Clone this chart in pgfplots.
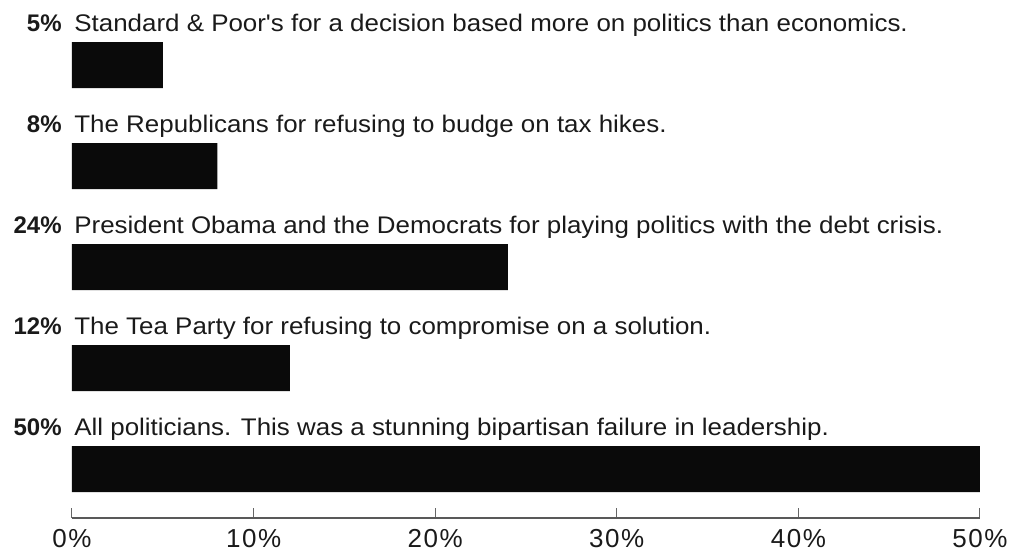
\documentclass[border=0pt]{standalone}
\usepackage{fontspec}
\setmainfont{Liberation Sans}
\newfontfamily\labfont{Liberation Sans}[FakeStretch=1.08]
\usepackage{pgfplots}
\pgfplotsset{compat=1.18}
\definecolor{ink}{HTML}{1A1A1A}
\definecolor{barfill}{HTML}{0A0A0A}
\begin{document}
\begin{tikzpicture}
% fixed picture size (1px = 0.5pt)
\path[use as bounding box] (-36pt,-18pt) rectangle (468.5pt,259pt);
\begin{axis}[
  scale only axis, width=454pt, height=259pt,
  xmin=0, xmax=50, ymin=-0.485, ymax=4.644,
  axis x line*=bottom, axis y line=none,
  clip=false,
  xbar, bar width=23pt,
  xtick={0,10,...,50},
  xticklabels={0\%,10\%,20\%,30\%,40\%,50\%},
  ytick=\empty,
  tick align=inside, major tick length=5pt,
  every tick/.style={black!60, line width=0.5pt},
  x axis line style={black!65, line width=0.6pt},
  xticklabel style={font=\fontsize{13}{15}\selectfont\addfontfeature{LetterSpace=6}, text=ink, yshift=-2pt},
]
\addplot[fill=barfill, draw=none] coordinates {(5,4) (8,3) (24,2) (12,1) (50,0)};

\tikzset{lab/.style={anchor=base west, inner sep=0pt, xshift=1pt, text=ink, font=\labfont\fontsize{12}{14}\selectfont},
         pct/.style={anchor=base east, inner sep=0pt, text=ink, font=\fontsize{12}{14}\selectfont\bfseries}}
\node[lab] at (axis cs:0,4.33) {Standard \& Poor's for a decision based more on politics than economics.};
\node[pct] at ([xshift=-5pt]axis cs:0,4.33) {5\%};
\node[lab] at (axis cs:0,3.33) {The Republicans for refusing to budge on tax hikes.};
\node[pct] at ([xshift=-5pt]axis cs:0,3.33) {8\%};
\node[lab] at (axis cs:0,2.33) {President Obama and the Democrats for playing politics with the debt crisis.};
\node[pct] at ([xshift=-5pt]axis cs:0,2.33) {24\%};
\node[lab] at (axis cs:0,1.33) {The Tea Party for refusing to compromise on a solution.};
\node[pct] at ([xshift=-5pt]axis cs:0,1.33) {12\%};
\node[lab] at (axis cs:0,0.33) {All politicians. This was a stunning bipartisan failure in leadership.};
\node[pct] at ([xshift=-5pt]axis cs:0,0.33) {50\%};
\end{axis}
\end{tikzpicture}
\end{document}
